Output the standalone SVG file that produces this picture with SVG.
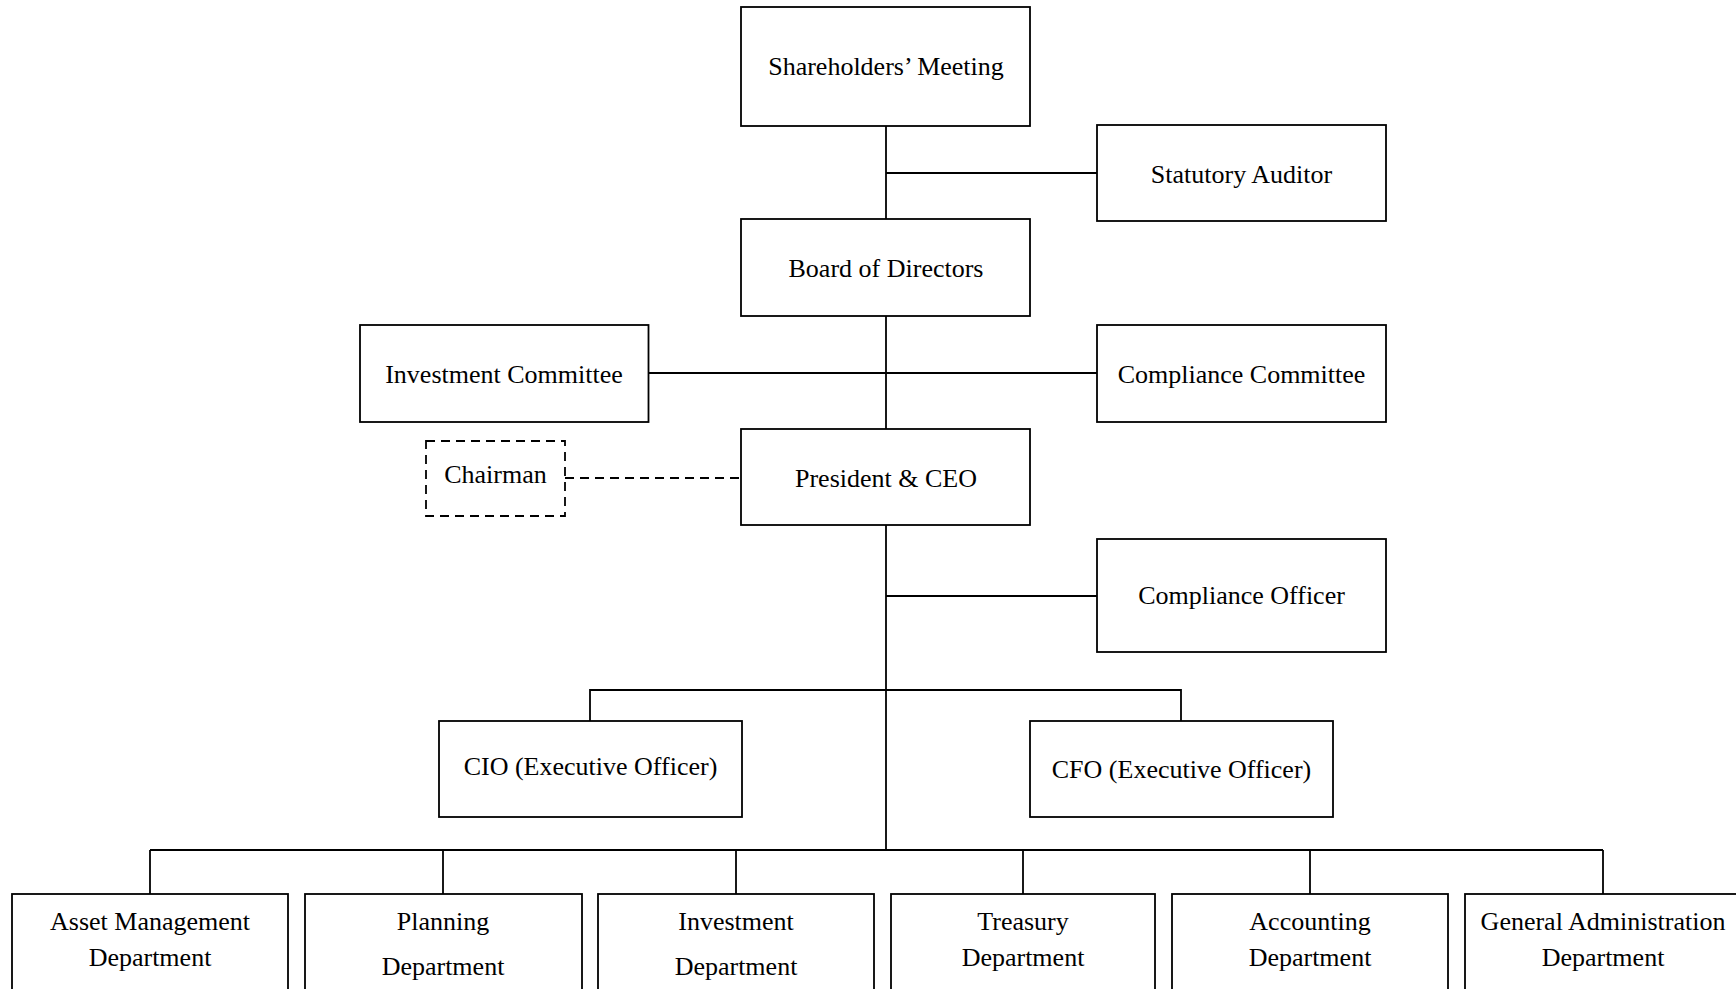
<svg xmlns="http://www.w3.org/2000/svg" width="1736" height="989" viewBox="0 0 1736 989">
<style>
.box{fill:#fff;stroke:#000;stroke-width:1.8}
.dash{fill:#fff;stroke:#000;stroke-width:1.8;stroke-dasharray:9 6}
.ln{fill:none;stroke:#000;stroke-width:1.8}
.dl{fill:none;stroke:#000;stroke-width:1.8;stroke-dasharray:9 6}
text{font-family:"Liberation Serif","Times New Roman",serif;font-size:26px;fill:#000;text-anchor:middle}
</style>
<rect width="1736" height="989" fill="#fff"/>
<g id="connectors">
<line class="ln" x1="886" y1="126" x2="886" y2="219"/>
<line class="ln" x1="886" y1="173" x2="1097" y2="173"/>
<line class="ln" x1="886" y1="316" x2="886" y2="429"/>
<line class="ln" x1="648.5" y1="373" x2="1097" y2="373"/>
<line class="ln" x1="886" y1="525" x2="886" y2="850"/>
<line class="ln" x1="886" y1="596" x2="1097" y2="596"/>
<polyline class="ln" points="590,721 590,690 1181,690 1181,721"/>
<line class="ln" x1="150" y1="850" x2="1603" y2="850"/>
<line class="ln" x1="150" y1="850" x2="150" y2="894"/>
<line class="ln" x1="443" y1="850" x2="443" y2="894"/>
<line class="ln" x1="736" y1="850" x2="736" y2="894"/>
<line class="ln" x1="1023" y1="850" x2="1023" y2="894"/>
<line class="ln" x1="1310" y1="850" x2="1310" y2="894"/>
<line class="ln" x1="1603" y1="850" x2="1603" y2="894"/>
<line class="dl" x1="565" y1="478" x2="741" y2="478"/>
</g>
<g id="shareholders"><rect class="box" x="741" y="7" width="289" height="119"/><text x="886" y="75">Shareholders’ Meeting</text></g>
<g id="auditor"><rect class="box" x="1097" y="125" width="289" height="96"/><text x="1241.5" y="183">Statutory Auditor</text></g>
<g id="board"><rect class="box" x="741" y="219" width="289" height="97"/><text x="886" y="277">Board of Directors</text></g>
<g id="invcommittee"><rect class="box" x="360" y="325" width="288.5" height="97"/><text x="504" y="383">Investment Committee</text></g>
<g id="compcommittee"><rect class="box" x="1097" y="325" width="289" height="97"/><text x="1241.5" y="383">Compliance Committee</text></g>
<g id="chairman"><rect class="dash" x="426" y="441" width="139" height="75"/><text x="495.5" y="483">Chairman</text></g>
<g id="president"><rect class="box" x="741" y="429" width="289" height="96"/><text x="886" y="487">President &amp; CEO</text></g>
<g id="compofficer"><rect class="box" x="1097" y="539" width="289" height="113"/><text x="1241.5" y="604">Compliance Officer</text></g>
<g id="cio"><rect class="box" x="439" y="721" width="303" height="96"/><text x="590.5" y="775">CIO (Executive Officer)</text></g>
<g id="cfo"><rect class="box" x="1030" y="721" width="303" height="96"/><text x="1181.5" y="778">CFO (Executive Officer)</text></g>
<g id="asset"><rect class="box" x="12" y="894" width="276" height="120"/><text x="150" y="930">Asset Management</text><text x="150" y="966">Department</text></g>
<g id="planning"><rect class="box" x="305" y="894" width="277" height="120"/><text x="443" y="930">Planning</text><text x="443" y="975">Department</text></g>
<g id="investment"><rect class="box" x="598" y="894" width="276" height="120"/><text x="736" y="930">Investment</text><text x="736" y="975">Department</text></g>
<g id="treasury"><rect class="box" x="891" y="894" width="264" height="120"/><text x="1023" y="930">Treasury</text><text x="1023" y="966">Department</text></g>
<g id="accounting"><rect class="box" x="1172" y="894" width="276" height="120"/><text x="1310" y="930">Accounting</text><text x="1310" y="966">Department</text></g>
<g id="genadmin"><rect class="box" x="1465" y="894" width="280" height="120"/><text x="1603" y="930">General Administration</text><text x="1603" y="966">Department</text></g>
</svg>
